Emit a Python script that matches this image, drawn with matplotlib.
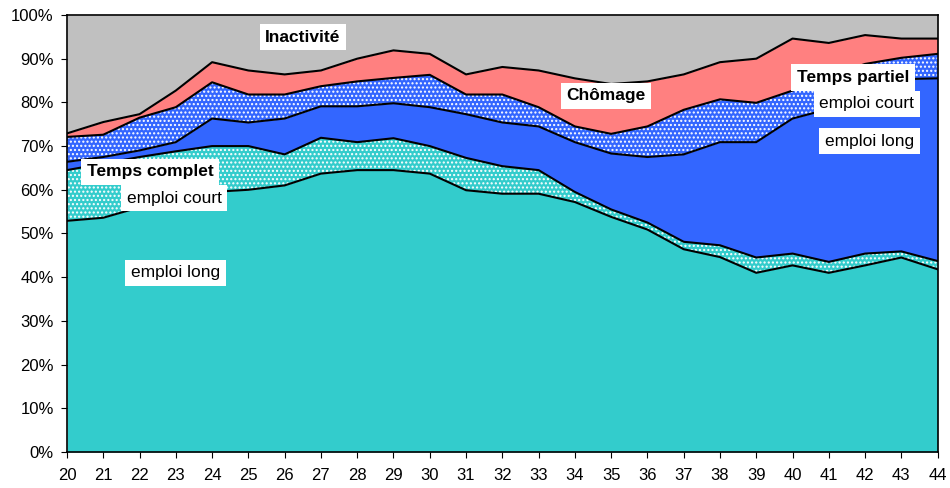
import matplotlib.pyplot as plt
import numpy as np

plt.rcParams['font.family'] = ['Liberation Sans', 'DejaVu Sans']
plt.rcParams['hatch.linewidth'] = 1.0

ages = np.arange(20, 45)

# cumulative shares (%)
tc_long = [52.9, 53.6, 56.0, 58.0, 59.5, 60.0, 61.0, 63.7, 64.5, 64.5, 63.7, 59.9, 59.1,
           59.1, 57.2, 53.8, 50.9, 46.4, 44.6, 41.0, 42.7, 41.0, 42.7, 44.5, 41.8]
tc_court = [64.5, 66.0, 67.5, 68.8, 70.0, 70.0, 68.1, 71.9, 70.9, 71.8, 70.0, 67.3, 65.4,
            64.5, 59.5, 55.5, 52.5, 48.1, 47.3, 44.5, 45.4, 43.5, 45.4, 45.9, 43.7]
tp_long = [66.4, 67.5, 69.0, 70.9, 76.3, 75.4, 76.3, 79.1, 79.1, 79.8, 78.9, 77.3, 75.4,
           74.5, 70.9, 68.3, 67.5, 68.1, 70.9, 70.9, 76.3, 78.5, 82.0, 85.3, 85.5]
tp_court = [72.1, 72.6, 76.5, 78.9, 84.6, 81.8, 81.8, 83.7, 84.8, 85.6, 86.3, 81.8, 81.8,
            78.9, 74.5, 72.8, 74.5, 78.3, 80.7, 79.9, 82.7, 86.0, 88.8, 90.2, 91.1]
chomage = [72.9, 75.5, 77.3, 82.7, 89.2, 87.3, 86.4, 87.3, 90.0, 91.9, 91.1, 86.4, 88.1,
           87.3, 85.5, 84.2, 84.8, 86.4, 89.2, 90.0, 94.6, 93.6, 95.4, 94.6, 94.6]

teal = '#33CCCC'
blue = '#3366FF'
salmon = '#FF8080'
grey = '#C0C0C0'

fig = plt.figure(figsize=(9.5, 4.88), dpi=100)
ax = fig.add_axes([0.0705, 0.0738, 0.9165, 0.8955])

zero = np.zeros(len(ages))
top = np.full(len(ages), 100.0)
layers = [
    (zero, tc_long, teal, None),
    (tc_long, tc_court, teal, '....'),
    (tc_court, tp_long, blue, None),
    (tp_long, tp_court, blue, '....'),
    (tp_court, chomage, salmon, None),
    (chomage, top, grey, None),
]
for lo, hi, col, hatch in layers:
    ax.fill_between(ages, lo, hi, facecolor=col, edgecolor='white' if hatch else col,
                    hatch=hatch, linewidth=0)

# black outlines of each band
for line in [tc_long, tc_court, tp_long, tp_court, chomage]:
    ax.plot(ages, line, color='black', linewidth=1.5)

ax.set_xlim(20, 44)
ax.set_ylim(0, 100)
ax.set_xticks(ages)
ax.set_yticks(range(0, 101, 10))
ax.set_yticklabels(['%d%%' % v for v in range(0, 101, 10)])
ax.tick_params(labelsize=12, direction='out', length=4.5, color='black')
ax.tick_params(axis='x', pad=7)
ax.tick_params(axis='y', pad=5)
for s in ax.spines.values():
    s.set_color('black')
    s.set_linewidth(1.2)

box = dict(facecolor='white', edgecolor='none', pad=4)
labels = [
    (26.5, 94.9, 'Inactivité', 'bold'),
    (22.3, 64.1, 'Temps complet', 'bold'),
    (22.96, 58.1, 'emploi court', 'normal'),
    (22.99, 41.0, 'emploi long', 'normal'),
    (34.85, 81.5, 'Chômage', 'bold'),
    (41.67, 85.7, 'Temps partiel', 'bold'),
    (42.04, 79.7, 'emploi court', 'normal'),
    (42.12, 71.1, 'emploi long', 'normal'),
]
for x, y, t, w in labels:
    ax.text(x, y, t, ha='center', va='center', fontsize=12.5, fontweight=w, bbox=box)

plt.savefig('out.png', dpi=100)
